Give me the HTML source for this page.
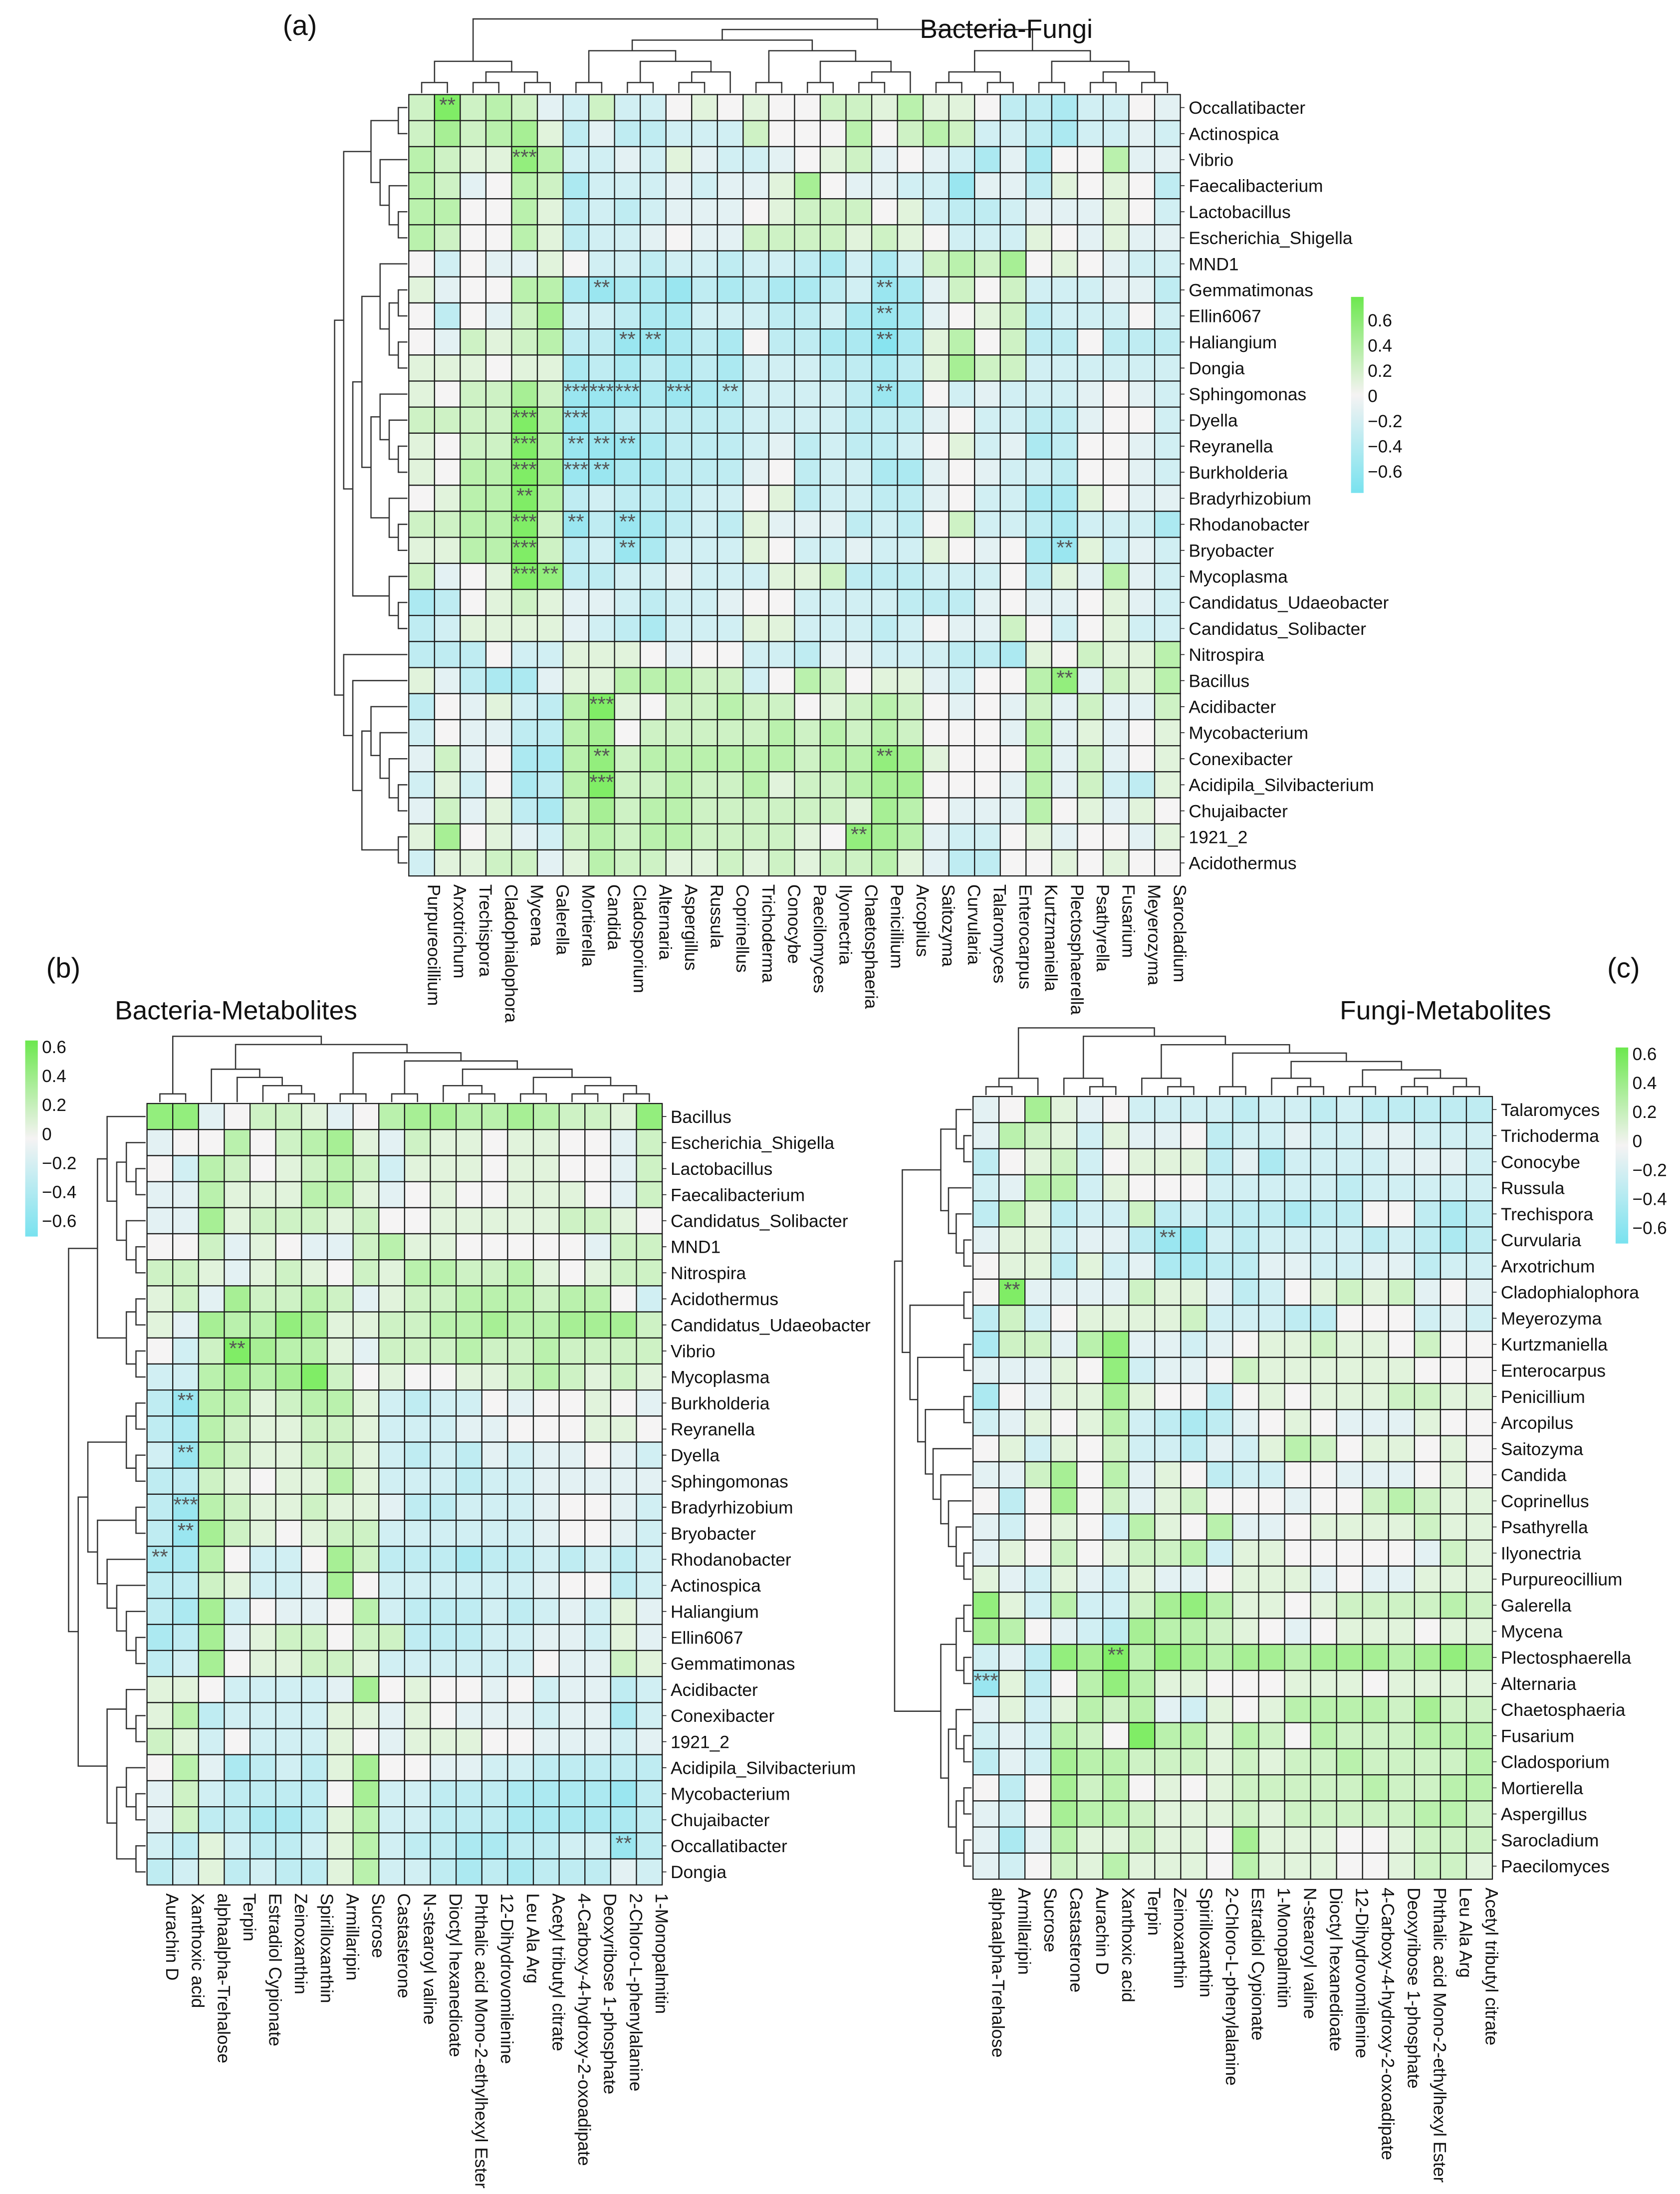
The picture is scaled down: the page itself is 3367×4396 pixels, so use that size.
<!DOCTYPE html>
<html><head><meta charset="utf-8"><title>Correlation heatmaps</title>
<style>
html,body{margin:0;padding:0;background:#fff;}
svg{display:block;}
text{font-family:"Liberation Sans",Arial,sans-serif;fill:#111;}
</style></head>
<body>
<svg id="fig" xmlns="http://www.w3.org/2000/svg" width="3367" height="4396" viewBox="0 0 1200 1566.7">
<defs>
<linearGradient id="legGrad" x1="0" y1="0" x2="0" y2="1">
<stop offset="0" stop-color="#6ce84e"/><stop offset="0.5" stop-color="#f5f3f3"/><stop offset="1" stop-color="#78e2ef"/>
</linearGradient>
</defs>
<g id="root"></g>
</svg>
<script>
// ---------- Panel (a) Bacteria-Fungi ----------
const rowsA=["Occallatibacter","Actinospica","Vibrio","Faecalibacterium","Lactobacillus","Escherichia_Shigella","MND1","Gemmatimonas","Ellin6067","Haliangium","Dongia","Sphingomonas","Dyella","Reyranella","Burkholderia","Bradyrhizobium","Rhodanobacter","Bryobacter","Mycoplasma","Candidatus_Udaeobacter","Candidatus_Solibacter","Nitrospira","Bacillus","Acidibacter","Mycobacterium","Conexibacter","Acidipila_Silvibacterium","Chujaibacter","1921_2","Acidothermus"];
const colsA=["Purpureocillium","Arxotrichum","Trechispora","Cladophialophora","Mycena","Galerella","Mortierella","Candida","Cladosporium","Alternaria","Aspergillus","Russula","Coprinellus","Trichoderma","Conocybe","Paecilomyces","Ilyonectria","Chaetosphaeria","Penicillium","Arcopilus","Saitozyma","Curvularia","Talaromyces","Enterocarpus","Kurtzmaniella","Plectosphaerella","Psathyrella","Fusarium","Meyerozyma","Sarocladium"];
const valsA=[
[2,6,2,3,2,-1,-2,2,-2,-2,0,1,0,1,0,0,2,2,1,3,1,1,0,-3,-3,-4,-2,-2,0,-1],
[2,4,2,3,4,1,-3,-1,-3,-3,-2,-2,-2,2,0,0,0,3,0,2,3,2,-2,-2,-3,-4,-2,-2,-1,-2],
[3,2,1,1,5,3,-2,-2,-1,-2,1,-1,-2,-2,-1,0,1,2,-1,0,-1,-2,-4,-1,-4,0,0,3,-1,-1],
[3,2,-1,0,3,2,-4,-2,-2,-2,-1,-2,-1,-1,1,4,0,-1,-1,-2,-2,-5,-1,-1,-3,1,0,1,0,-3],
[3,3,0,0,3,1,-3,-2,-3,-2,-1,-1,-1,0,1,2,2,2,0,1,-2,-3,-3,-2,-1,-1,-1,1,0,-2],
[3,2,0,0,3,1,-3,-2,-2,-1,0,-1,-1,2,2,2,2,1,2,1,0,-2,-2,-2,1,0,-1,1,-1,-1],
[0,-2,0,-1,-1,1,0,-2,-2,-3,-2,-2,-3,-2,-2,-3,-4,-2,-4,-2,2,3,2,4,0,1,0,-1,-2,-2],
[1,-1,0,0,3,3,-4,-5,-4,-4,-5,-3,-4,-3,-4,-4,-3,-2,-5,-4,-1,2,0,2,-2,-2,-2,-1,-1,-3],
[0,-3,0,-1,2,4,-2,-2,-3,-4,-4,-2,-2,-2,-3,-3,-2,-4,-5,-4,-1,0,1,2,-3,-2,-2,-2,0,-2],
[0,-1,2,1,2,3,-3,-3,-5,-5,-4,-3,-4,0,-3,-3,-4,-4,-6,-4,1,3,0,2,-3,-3,0,-3,-3,-3],
[1,1,1,0,1,1,-4,-3,-4,-3,-4,-3,-4,-2,-2,-2,-3,-3,-4,-3,1,4,2,2,-2,-2,-2,-2,-2,-2],
[1,0,2,2,4,2,-5,-5,-5,-4,-5,-4,-4,-2,-2,-2,-2,-3,-5,-4,0,-2,-1,-2,-2,-2,-1,0,-1,-2],
[2,2,2,2,6,3,-5,-4,-3,-3,-3,-3,-3,-2,-2,-2,-2,-3,-3,-3,-1,0,-2,-2,-3,-3,-1,0,0,-2],
[1,0,2,2,6,3,-5,-5,-5,-4,-3,-3,-3,-2,-1,-3,-2,-3,-3,-2,0,1,-2,-1,-4,-3,0,0,-1,-2],
[1,0,3,3,6,4,-5,-5,-4,-4,-3,-3,-3,-1,0,-3,-2,-2,-4,-4,-1,0,-1,-2,-2,-3,0,0,-1,-2],
[0,1,3,3,6,3,-3,-2,-3,-3,-3,-2,-2,0,1,-3,-2,-2,-3,-3,-1,0,-2,-2,-4,-4,1,0,-1,-1],
[2,2,3,3,6,2,-5,-3,-5,-4,-3,-2,-3,1,-1,-1,-1,-3,-2,-3,0,2,-2,-2,-3,-4,-2,-2,-2,-4],
[1,1,3,3,6,2,-3,-2,-5,-4,-2,-2,-2,1,0,-2,-2,-1,-2,-2,1,0,-1,0,-4,-5,1,-2,-1,-2],
[2,-1,0,1,6,5,-3,-3,-2,-2,-1,-2,-2,-2,1,1,2,-3,-3,-3,-2,-2,-2,0,-3,1,-1,3,-1,-2],
[-4,-3,0,1,2,1,-1,-1,-2,-3,-2,-2,-1,0,0,-2,-2,-2,-2,-3,-3,-3,-1,0,-1,-1,0,1,-1,-2],
[-3,-2,1,1,1,1,-1,-2,-3,-4,-2,-2,-2,1,1,-2,-2,-2,-3,-2,0,-1,-1,2,0,-2,0,1,-2,-2],
[-3,-3,-3,0,-2,-2,1,1,1,0,-1,0,0,-2,-2,-3,-1,-1,-2,-2,-2,-3,-3,-4,1,0,2,1,1,3],
[1,-1,-3,-4,-4,-1,1,1,3,3,3,2,2,-2,0,3,2,0,1,1,-1,-2,0,0,3,5,-1,2,1,3],
[-3,0,-1,1,-2,-3,3,6,1,0,2,2,3,2,2,0,1,2,3,2,0,-1,0,-1,2,-1,2,-1,-1,2],
[-2,0,-1,-1,-3,-3,3,4,0,2,2,2,2,2,3,2,3,2,3,2,0,0,0,-1,3,-1,1,-1,0,1],
[-1,2,-1,0,-4,-4,3,5,2,3,3,3,3,3,3,2,3,3,5,4,1,0,0,0,3,-1,2,-1,0,1],
[-2,1,-2,0,-4,-3,3,6,2,2,3,2,2,3,1,2,2,3,4,4,0,0,0,-1,3,-1,2,-2,-3,1],
[-1,2,-1,1,-3,-4,2,4,2,3,3,2,2,2,2,2,2,1,4,3,0,-1,-1,-1,3,0,1,-1,1,0],
[1,4,0,1,-1,-2,2,3,2,3,3,2,2,2,2,1,0,5,4,3,-1,-2,-2,0,1,-1,0,0,-1,1],
[-2,1,1,2,2,-1,1,3,2,2,1,1,2,1,2,1,2,2,3,1,-1,-3,-3,0,0,1,0,1,0,0]];
const starsA=[[0,1,"**"],[2,4,"***"],[7,7,"**"],[7,18,"**"],[8,18,"**"],[9,8,"**"],[9,9,"**"],[9,18,"**"],[11,6,"***"],[11,7,"***"],[11,8,"***"],[11,10,"***"],[11,12,"**"],[11,18,"**"],[12,4,"***"],[12,6,"***"],[13,4,"***"],[13,6,"**"],[13,7,"**"],[13,8,"**"],[14,4,"***"],[14,6,"***"],[14,7,"**"],[15,4,"**"],[16,4,"***"],[16,6,"**"],[16,8,"**"],[17,4,"***"],[17,8,"**"],[17,25,"**"],[18,4,"***"],[18,5,"**"],[22,25,"**"],[23,7,"***"],[25,7,"**"],[25,18,"**"],[26,7,"***"],[28,17,"**"]];
const treeRowA=[[[[0,1],[2,[3,[4,5]]]],[[[6,[[7,8],[9,10]]],[[11,[12,[13,14]]],[15,[16,17]]]],[18,[19,20]]]],[21,[22,[[23,[24,[25,[26,27]]]],[28,29]]]]];
const treeColA=[[[0,1],[[2,3],[4,5]]],[[[[6,7],[[8,9],[[10,11],12]]],[[13,14],[[15,16],[[17,18],19]]]],[[[20,21],[22,23]],[[24,25],[[26,27],[28,29]]]]]];

// ---------- Panel (b) Bacteria-Metabolites ----------
const rowsB=["Bacillus","Escherichia_Shigella","Lactobacillus","Faecalibacterium","Candidatus_Solibacter","MND1","Nitrospira","Acidothermus","Candidatus_Udaeobacter","Vibrio","Mycoplasma","Burkholderia","Reyranella","Dyella","Sphingomonas","Bradyrhizobium","Bryobacter","Rhodanobacter","Actinospica","Haliangium","Ellin6067","Gemmatimonas","Acidibacter","Conexibacter","1921_2","Acidipila_Silvibacterium","Mycobacterium","Chujaibacter","Occallatibacter","Dongia"];
const colsB=["Aurachin D","Xanthoxic acid","alphaalpha-Trehalose","Terpin","Estradiol Cypionate","Zeinoxanthin","Spirilloxanthin","Armillaripin","Sucrose","Castasterone","N-stearoyl valine","Dioctyl hexanedioate","Phthalic acid Mono-2-ethylhexyl Ester","12-Dihydrovomilenine","Leu Ala Arg","Acetyl tributyl citrate","4-Carboxy-4-hydroxy-2-oxoadipate","Deoxyribose 1-phosphate","2-Chloro-L-phenylalanine","1-Monopalmitin"];
const valsB=[
[5,5,-1,0,2,2,1,-1,0,3,4,4,3,3,4,3,2,2,1,5],
[-1,0,0,3,0,2,3,4,1,-1,2,1,1,0,1,1,0,0,-1,2],
[0,-2,3,2,0,1,2,3,2,-2,1,1,1,0,1,1,0,0,-1,2],
[-1,-1,3,1,1,1,3,3,1,-1,0,1,0,0,1,1,1,0,-1,2],
[-1,-1,4,1,2,2,2,1,2,0,0,1,1,1,1,1,2,2,1,0],
[0,0,2,-1,1,0,-1,-1,2,3,1,1,0,0,0,0,0,-1,2,2],
[2,2,1,-1,1,2,1,0,2,1,3,3,2,2,3,1,0,1,2,2],
[1,2,-1,4,2,2,3,2,-1,1,2,2,3,3,3,2,3,3,0,-2],
[1,-1,4,3,3,5,4,1,1,2,2,3,3,4,3,3,4,4,4,2],
[0,-2,2,6,4,3,3,1,-1,2,2,2,3,2,2,3,2,2,2,2],
[-2,-2,3,4,3,4,6,2,0,1,0,0,1,1,2,3,2,1,2,1],
[-3,-5,3,3,1,2,3,3,1,-2,-3,-2,-2,0,-1,0,0,1,0,-1],
[-3,-4,3,2,1,1,2,2,1,-2,-2,-2,-1,-1,0,0,0,1,1,0],
[-2,-5,3,2,1,1,2,2,1,-2,-3,-2,-3,-1,-2,-1,-1,0,-1,-2],
[-3,-3,2,1,0,1,1,3,1,-2,-2,-2,-3,-2,-2,-1,-1,-1,-1,-1],
[-3,-5,3,2,1,1,2,1,1,-1,-3,-3,-2,-2,-2,-1,0,0,-1,-2],
[-3,-5,4,2,1,0,1,2,2,-2,-2,-2,-2,-2,-2,-1,0,0,-1,-2],
[-4,-4,3,0,-2,-2,0,4,2,-3,-3,-3,-4,-3,-3,-2,-3,-2,-3,-2],
[-3,-3,2,1,-2,-2,-1,4,0,-2,-2,-2,-2,-2,-2,-1,0,0,-3,-2],
[-3,-4,4,-2,0,-1,-1,0,3,-2,-3,-3,-3,-2,-3,-2,-1,-2,1,-1],
[-4,-3,4,-1,1,2,2,0,2,2,-3,-3,-3,-2,-2,-1,-1,-2,1,-1],
[-3,-2,4,0,1,1,2,2,1,-2,-2,-2,-2,-2,-2,0,-1,-1,2,1],
[1,1,0,-2,-2,-2,-2,-1,4,0,1,0,0,-1,0,-2,-1,-1,-3,-2],
[1,3,-3,-2,-2,-2,-2,1,1,-1,1,0,-1,-1,-1,-2,-1,-1,-4,-2],
[2,1,-2,0,-2,-2,-2,1,0,-1,1,1,1,0,0,-1,-1,-1,-2,-1],
[0,3,-1,-4,-3,-2,-3,1,4,0,0,-1,-1,-2,-2,-3,-3,-3,-3,-3],
[-1,2,-2,-3,-3,-3,-3,0,4,-2,-2,-3,-3,-3,-4,-4,-4,-4,-5,-3],
[-1,2,-3,-3,-4,-4,-3,1,3,-2,-2,-3,-3,-3,-4,-4,-4,-4,-4,-3],
[-2,-3,1,-2,-3,-3,-2,1,3,-2,-3,-3,-4,-4,-3,-3,-2,-2,-5,-3],
[-3,-2,1,-3,-2,-3,-3,1,3,-2,-2,-3,-4,-3,-4,-3,-3,-3,-1,-2]];
const starsB=[[9,3,"**"],[11,1,"**"],[13,1,"**"],[15,1,"***"],[16,1,"**"],[17,0,"**"],[28,18,"**"]];
const treeRowB=[[[0,[[1,[2,3]],[4,[5,6]]]],[[7,8],[9,10]]],[[[[11,12],[13,14]],[[15,16],[17,[18,[19,[20,21]]]]]],[[22,[23,24]],[[25,[26,27]],[28,29]]]]];
const treeColB=[[0,1],[[2,[3,[4,[5,6]]]],[[7,8],[[9,10],[[11,[12,13]],[[14,15],[[16,17],[18,19]]]]]]]];

// ---------- Panel (c) Fungi-Metabolites ----------
const rowsC=["Talaromyces","Trichoderma","Conocybe","Russula","Trechispora","Curvularia","Arxotrichum","Cladophialophora","Meyerozyma","Kurtzmaniella","Enterocarpus","Penicillium","Arcopilus","Saitozyma","Candida","Coprinellus","Psathyrella","Ilyonectria","Purpureocillium","Galerella","Mycena","Plectosphaerella","Alternaria","Chaetosphaeria","Fusarium","Cladosporium","Mortierella","Aspergillus","Sarocladium","Paecilomyces"];
const colsC=["alphaalpha-Trehalose","Armillaripin","Sucrose","Castasterone","Aurachin D","Xanthoxic acid","Terpin","Zeinoxanthin","Spirilloxanthin","2-Chloro-L-phenylalanine","Estradiol Cypionate","1-Monopalmitin","N-stearoyl valine","Dioctyl hexanedioate","12-Dihydrovomilenine","4-Carboxy-4-hydroxy-2-oxoadipate","Deoxyribose 1-phosphate","Phthalic acid Mono-2-ethylhexyl Ester","Leu Ala Arg","Acetyl tributyl citrate"];
const valsC=[
[-1,0,4,1,-1,0,-2,-2,-2,-2,-3,-2,-2,-3,-2,-3,-3,-3,-3,-3],
[-1,3,2,1,-2,1,-1,-1,0,-3,-2,-2,-1,-2,-2,-1,-1,-2,-2,-2],
[-3,0,1,2,-2,0,1,1,1,-3,-1,-4,-2,-2,-2,-2,-1,-1,-1,-2],
[-2,-1,3,3,-2,1,0,0,0,-2,-2,-2,-2,-2,-3,-2,-2,-2,-2,-2],
[-3,3,1,-3,-2,-2,2,-3,-2,-3,-3,-3,-4,-3,-3,0,0,-3,-4,-3],
[-1,1,1,-2,-1,-1,-3,-5,-5,-2,-3,-2,-2,-2,-2,-3,-2,-3,-4,-3],
[0,1,1,-3,1,-2,-1,-4,-4,-3,-3,-1,-1,-2,-2,-1,-1,-3,-2,-2],
[0,6,-1,-1,-1,-1,2,1,1,-1,-3,-2,0,1,2,1,2,-1,0,-1],
[-3,2,-2,0,1,1,1,1,2,-2,-2,-2,-3,-3,0,0,0,-2,-1,-2],
[-4,2,2,-1,3,5,-1,-1,-2,-1,0,1,1,2,1,1,0,2,0,0],
[-1,-1,-1,1,0,5,-2,-1,-1,0,2,1,1,1,1,1,1,0,0,0],
[-4,0,-1,1,1,4,1,0,0,-3,0,1,0,1,1,1,2,2,1,1],
[-2,-1,1,0,1,3,-2,-3,-4,-3,-1,0,1,0,-1,-1,-1,1,0,0],
[0,1,-2,1,0,2,-2,-2,-3,-1,-2,1,3,2,0,1,1,0,1,0],
[-1,-1,2,4,0,3,-1,1,0,-3,-2,-2,0,0,-1,-1,-1,0,1,0],
[0,-3,0,4,0,2,-1,1,2,0,0,0,-1,0,0,2,3,2,1,1],
[-1,-2,0,1,0,-2,3,1,0,3,-1,-1,0,1,1,1,1,2,1,1],
[-1,1,0,2,0,1,2,2,3,-2,1,1,0,0,0,0,0,-1,2,1],
[1,-1,-2,1,-1,-2,1,-1,-1,0,1,1,1,-1,0,-1,-1,1,1,1],
[5,1,-2,3,-2,-2,2,4,5,3,1,1,0,1,2,2,2,2,3,2],
[4,3,0,-1,-2,-3,4,3,3,2,1,0,-1,0,1,1,1,0,1,1],
[-2,-1,-3,5,4,6,3,5,4,3,4,4,3,4,4,4,3,4,5,4],
[-5,1,-3,0,3,5,3,1,1,0,0,0,1,1,1,0,1,1,1,1],
[-1,1,-2,1,3,2,3,-1,-2,1,0,1,3,3,3,3,2,4,2,2],
[-2,-1,-2,3,2,0,6,3,3,1,3,2,0,3,2,2,2,3,3,3],
[-3,-1,-2,4,3,3,2,2,2,1,2,1,2,2,3,2,2,2,2,3],
[0,-3,0,4,2,3,0,1,0,1,2,2,2,2,2,3,2,2,3,3],
[-1,-2,0,4,3,3,2,1,1,1,2,1,2,2,2,2,2,3,3,2],
[-1,-4,-1,3,1,1,2,1,1,0,4,1,1,1,0,0,1,2,2,2],
[-1,-2,0,2,1,3,1,1,1,0,3,1,1,1,0,0,1,2,2,1]];
const starsC=[[5,7,"**"],[7,1,"**"],[21,5,"**"],[22,0,"***"]];
const treeRowC=[[[[0,[1,2]],[3,[4,[5,6]]]],[[7,8],[[9,10],[[11,12],[13,[14,[15,[16,[17,18]]]]]]]]],[[[19,20],[21,22]],[[23,[24,25]],[[26,27],[28,29]]]]];
const treeColC=[[[0,1],2],[[3,[4,5]],[[6,[7,8]],[[9,10],[[11,[12,13]],[[14,15],[[16,17],[18,19]]]]]]]];

const legendTicks=["0.6","0.4","0.2","0","\u22120.2","\u22120.4","\u22120.6"];

// ---------- drawing ----------
const NS="http://www.w3.org/2000/svg";
const root=document.getElementById("root");
function mk(tag,attrs,parent){const e=document.createElementNS(NS,tag);for(const k in attrs)e.setAttribute(k,attrs[k]);(parent||root).appendChild(e);return e;}
const W=[245,244,244],G=[108,236,78],C=[118,225,239];
function color(v){const t=Math.max(-1,Math.min(1,v/0.7));const tgt=t>=0?G:C;const a=Math.abs(t);
return "rgb("+W.map((w,i)=>Math.round(w+(tgt[i]-w)*a)).join(",")+")";}

function layoutTree(tree,pos){ // returns {p,h,segs}
 const segs=[];
 function rec(n){ if(typeof n==="number")return {p:pos(n),h:0};
  const a=rec(n[0]),b=rec(n[1]);const h=Math.max(a.h,b.h)+1;segs.push([a,b,h]);return {p:(a.p+b.p)/2,h:h};}
 const r=rec(tree);return {root:r,segs:segs};}

function drawPanel(cfg){
 const g=mk("g",{});
 
 
 const {x0,y0,cw,rh,rows,cols,vals,stars}=cfg;
 const xS=c=>x0+c*cw, yS=r=>y0+r*rh;
 const cells=mk("g",{},g);
 
 
 vals.forEach((row,r)=>row.forEach((v,c)=>{
  const rect=mk("rect",{x:xS(c),y:yS(r),width:cw,height:rh,fill:color(v/10),stroke:"#1a1a1a","stroke-width":0.8},cells);
  
  
 }));
 const st=mk("g",{},g);
 
 
 stars.forEach(s=>{const t=mk("text",{x:xS(s[1])+cw/2,y:yS(s[0])+12.5,"text-anchor":"middle","font-size":15,fill:"#555"},st);
  t.style.fill="#555";t.textContent=s[2];
  
  });
 const rl=mk("g",{},g);
 
 
 rows.forEach((n,r)=>{const t=mk("text",{x:xS(cols.length)+6,y:yS(r)+rh/2+4.5,"font-size":12.6},rl);t.textContent=n;
  
  
  mk("line",{x1:xS(cols.length),x2:xS(cols.length)+3,y1:yS(r)+rh/2,y2:yS(r)+rh/2,stroke:"#222","stroke-width":0.6},rl);});
 const cl=mk("g",{},g);
 
 
 cols.forEach((n,c)=>{const x=xS(c)+cw/2+4.5,y=yS(rows.length)+6;
  const t=mk("text",{x:x,y:y,"font-size":12.6,transform:"rotate(90 "+x+" "+y+")"},cl);t.textContent=n;
  
  });
 // left dendrogram
 const dl=mk("g",{fill:"none",stroke:"#333","stroke-width":0.9},g);
 
 
 const L=layoutTree(cfg.treeRow,i=>yS(i)+rh/2);const kx=cfg.dendroW/L.root.h;const xr=x0-1;
 L.segs.forEach(([a,b,h])=>{mk("path",{d:"M"+(xr-a.h*kx)+","+a.p+"H"+(xr-h*kx)+"V"+b.p+"H"+(xr-b.h*kx)},dl);});
 // top dendrogram
 const dt=mk("g",{fill:"none",stroke:"#333","stroke-width":0.9},g);
 
 
 const T=layoutTree(cfg.treeCol,i=>xS(i)+cw/2);const ky=cfg.dendroH/T.root.h;const yb=y0-1;
 T.segs.forEach(([a,b,h])=>{mk("path",{d:"M"+a.p+","+(yb-a.h*ky)+"V"+(yb-h*ky)+"H"+b.p+"V"+(yb-b.h*ky)},dt);});
 // title & tag
 const ti=mk("text",{x:cfg.titleX,y:cfg.titleY,"font-size":19},g);ti.textContent=cfg.title;
 
 
 const tg=mk("text",{x:cfg.tagX,y:cfg.tagY,"font-size":20},g);tg.textContent=cfg.tag;
 
 
 // legend
 const lg=mk("g",{},g);
 
 
 mk("rect",{x:cfg.legX,y:cfg.legY,width:9,height:cfg.legH,fill:"url(#legGrad)"},lg);
 legendTicks.forEach((s,i)=>{const t=mk("text",{x:cfg.legX+12,y:cfg.legT0+i*cfg.legDT,"font-size":12.5},lg);t.textContent=s;
  
  });
}

drawPanel({name:"panel-a-bacteria-fungi",x0:292,y0:67.5,cw:18.37,rh:18.6,rows:rowsA,cols:colsA,vals:valsA,stars:starsA,treeRow:treeRowA,treeCol:treeColA,dendroW:52,dendroH:53,title:"Bacteria-Fungi",titleX:657,titleY:27,tag:"(a)",tagX:202,tagY:25,legX:965,legY:212,legH:140,legT0:233,legDT:18});
drawPanel({name:"panel-b-bacteria-metabolites",x0:105,y0:788,cw:18.4,rh:18.6,rows:rowsB,cols:colsB,vals:valsB,stars:starsB,treeRow:treeRowB,treeCol:treeColB,dendroW:55,dendroH:47,title:"Bacteria-Metabolites",titleX:82,titleY:728,tag:"(b)",tagX:33,tagY:698,legX:18,legY:743,legH:140,legT0:752,legDT:20.7});
drawPanel({name:"panel-c-fungi-metabolites",x0:695,y0:783,cw:18.55,rh:18.63,rows:rowsC,cols:colsC,vals:valsC,stars:starsC,treeRow:treeRowC,treeCol:treeColC,dendroW:55,dendroH:48,title:"Fungi-Metabolites",titleX:957,titleY:728,tag:"(c)",tagX:1148,tagY:698,legX:1154,legY:748,legH:140,legT0:757,legDT:20.7});
</script>
</body></html>
